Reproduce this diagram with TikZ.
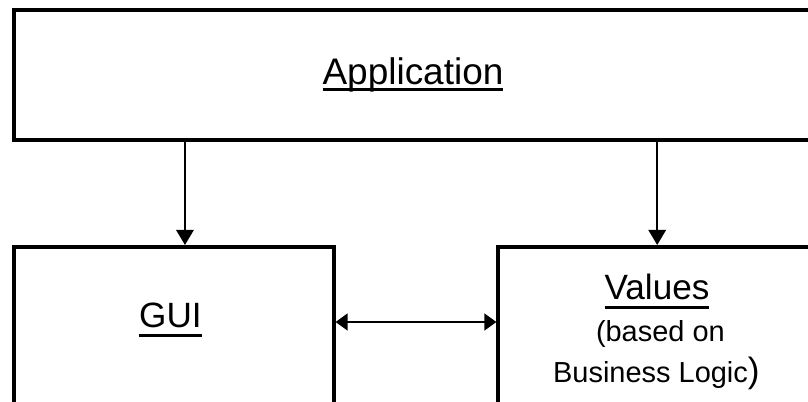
\documentclass[tikz,border=0pt]{standalone}
\usepackage{fontspec}
\setmainfont{Liberation Sans}
\usetikzlibrary{arrows.meta}
\newcommand{\uln}[2][6.3pt]{\setbox0\hbox{#2}\rlap{\rule[-#1]{\wd0}{2.1pt}}\box0}
\begin{document}
\begin{tikzpicture}[
  box/.style={draw,line width=2.85pt,minimum width=#1,inner sep=0pt},
  arr/.style={line width=1.4pt,-{Triangle[length=0.38cm,width=0.44cm]}},
  dbl/.style={line width=1.4pt,{Triangle[length=0.3cm,width=0.42cm]}-{Triangle[length=0.3cm,width=0.42cm]}}]
\useasboundingbox (0,0) rectangle (20.2,10.05);
\clip (0,0) rectangle (20.2,10.05);
% boxes
\node[box=19.95cm,minimum height=3.25cm] (app) at (10.325,8.175) {};
\node[box=7.99cm,minimum height=4.375cm] (gui) at (4.344,1.6875) {};
\node[box=7.94cm,minimum height=4.375cm] (values) at (16.43,1.6875) {};
% labels
\node[anchor=base,font=\fontsize{26.3}{30}\selectfont] (apptext) at (10.325,7.925) {\uln[4.3pt]{Application}};
\node[anchor=base,font=\fontsize{25}{30}\selectfont] (guitext) at (4.26,1.85) {\uln{GUI}};
\node[anchor=base,font=\fontsize{25}{30}\selectfont] (valtext) at (16.425,2.55) {\uln{Values}};
\node[anchor=base,font=\fontsize{20.6}{24}\selectfont] (based) at (16.51,1.5) {(based on};
\node[anchor=base,font=\fontsize{20.6}{24}\selectfont] (logic) at (16.41,0.475) {Business Logic{\fontsize{25}{30}\selectfont)}};
% connectors
\draw[arr] ([xshift=0.28cm]app.south -| gui.north) -- ([xshift=0.28cm]gui.north);
\draw[arr] (app.south -| values.north) -- (values.north);
\draw[dbl] ([yshift=0.3125cm]gui.east) -- ([yshift=0.3125cm]values.west);
\end{tikzpicture}
\end{document}
